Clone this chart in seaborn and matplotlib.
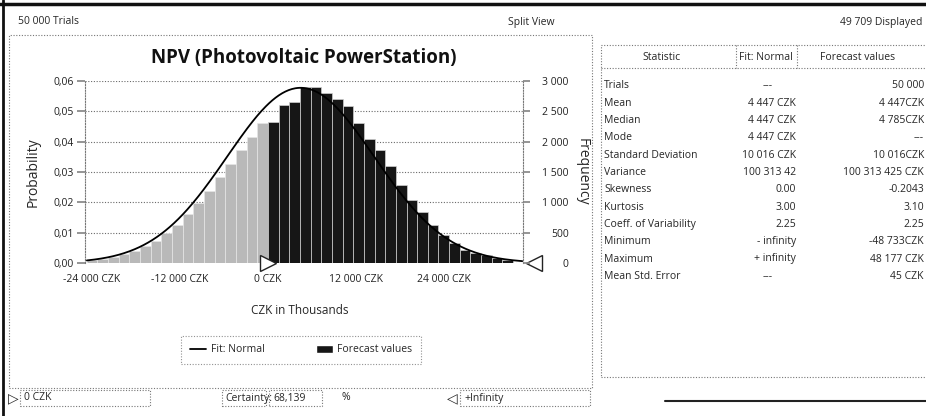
import numpy as np
import pandas as pd
import seaborn as sns
import matplotlib.pyplot as plt
from matplotlib.patches import Rectangle, Patch
from matplotlib.lines import Line2D
from matplotlib.ticker import FuncFormatter

# forecast data (probability per bin)
bin_width = 1450
trials = 50000
light_probs = [0.0009, 0.0013, 0.0020, 0.0029, 0.0040, 0.0055, 0.0074, 0.0099, 0.0125,
               0.0160, 0.0197, 0.0238, 0.0282, 0.0325, 0.0372, 0.0415, 0.0460]
dark_probs = [0.0465, 0.0520, 0.0530, 0.0580, 0.0580, 0.0560, 0.0540, 0.0516, 0.0463,
              0.0410, 0.0373, 0.0320, 0.0257, 0.0208, 0.0169, 0.0125, 0.0092, 0.0066,
              0.0043, 0.0034, 0.0026, 0.0017, 0.0010]
fit_mean = 4447
fit_sd = 10016
certainty_low = 0
x_ticks = [-24000, -12000, 0, 12000, 24000]

stat_names = ["Trials", "Mean", "Median", "Mode", "Standard Deviation", "Variance",
              "Skewness", "Kurtosis", "Coeff. of Variability", "Minimum", "Maximum",
              "Mean Std. Error"]
fit_values = ["---", "4 447 CZK", "4 447 CZK", "4 447 CZK", "10 016 CZK", "100 313 42",
              "0.00", "3.00", "2.25", "- infinity", "+ infinity", "---"]
forecast_values = ["50 000", "4 447CZK", "4 785CZK", "---", "10 016CZK", "100 313 425 CZK",
                   "-0.2043", "3.10", "2.25", "-48 733CZK", "48 177 CZK", "45 CZK"]

W, H = 926, 416


def fx(px):
    return px / W


def fy(py):
    return 1 - py / H


sns.set_theme(style="white")
plt.rcParams['font.family'] = ['Open Sans', 'DejaVu Sans']

fig = plt.figure(figsize=(W / 100, H / 100), dpi=100)
fig.patch.set_facecolor("white")

ax = fig.add_axes([fx(85), fy(263), fx(523) - fx(85), fy(81) - fy(263)])

n_light = len(light_probs)
light_edges = [certainty_low - bin_width * k for k in range(n_light, -1, -1)]
dark_edges = [certainty_low + bin_width * k for k in range(len(dark_probs) + 1)]
light_df = pd.DataFrame({"x": [(a + b) / 2 for a, b in zip(light_edges[:-1], light_edges[1:])],
                         "p": light_probs})
dark_df = pd.DataFrame({"x": [(a + b) / 2 for a, b in zip(dark_edges[:-1], dark_edges[1:])],
                        "p": dark_probs})

sns.histplot(data=light_df, x="x", weights="p", bins=light_edges, ax=ax,
             color="#b9b9b9", alpha=1, edgecolor="#e6e6e6", linewidth=0.5)
sns.histplot(data=dark_df, x="x", weights="p", bins=dark_edges, ax=ax,
             color="#161616", alpha=1, edgecolor="#d0d0d0", linewidth=0.5)

xs = np.linspace(light_edges[0], 34600, 400)
ys = np.exp(-0.5 * ((xs - fit_mean) / fit_sd) ** 2) / (fit_sd * np.sqrt(2 * np.pi)) * bin_width
sns.lineplot(x=xs, y=ys, ax=ax, color="black", linewidth=1.3)

ax.set_xlim(-24900, 34700)
ax.set_ylim(0, 0.06)
ax.set_xticks(x_ticks)
ax.xaxis.set_major_formatter(FuncFormatter(
    lambda v, p: ("-" if v < 0 else "") + f"{abs(int(v)):,}".replace(",", " ") + " CZK"))
ax.set_yticks(np.arange(0, 0.061, 0.01))
ax.yaxis.set_major_formatter(FuncFormatter(lambda v, p: f"{v:.2f}".replace(".", ",")))
ax.yaxis.grid(True, linestyle=(0, (1, 1.5)), color="#6a6a6a", linewidth=0.8)
ax.set_xlabel("")
ax.set_ylabel("")
ax.tick_params(axis="x", labelsize=7.5, colors="#222222", length=0, pad=8)
ax.tick_params(axis="y", labelsize=7.5, colors="#222222", length=6, color="#888888", pad=2)
for side in ["top", "bottom"]:
    ax.spines[side].set_visible(False)
for side in ["left", "right"]:
    ax.spines[side].set_linestyle((0, (1, 1.5)))
    ax.spines[side].set_color("#777777")
    ax.spines[side].set_linewidth(0.8)

ax2 = ax.twinx()
ax2.set_ylim(0, 0.06 * trials)
ax2.set_yticks(np.arange(0, 3001, 500))
ax2.yaxis.set_major_formatter(FuncFormatter(lambda v, p: f"{int(v):,}".replace(",", " ")))
ax2.tick_params(axis="y", labelsize=7.5, colors="#222222", length=5, color="#888888", pad=28)
for lbl in ax2.get_yticklabels():
    lbl.set_horizontalalignment("right")
ax2.grid(False)
for side in ax2.spines:
    ax2.spines[side].set_visible(False)

# certainty grabbers
ax.plot([certainty_low], [0], marker=">", markersize=11, markerfacecolor="white",
        markeredgecolor="#222222", clip_on=False, zorder=5, linestyle="none")
ax.plot([1.025], [0.0], marker="<", markersize=11, markerfacecolor="white",
        markeredgecolor="#222222", clip_on=False, transform=ax.transAxes, zorder=5,
        linestyle="none")

fig.text(fx(304), fy(58), "NPV (Photovoltaic PowerStation)", ha="center", va="center",
         fontsize=13.5, fontweight="bold", color="#111111")
fig.text(fx(300), fy(310), "CZK in Thousands", ha="center", va="center", fontsize=8.5)
fig.text(fx(33), fy(172), "Probability", ha="center", va="center", rotation=90, fontsize=10)
fig.text(fx(582), fy(172), "Frequency", ha="center", va="center", rotation=270, fontsize=10)

handles = [Line2D([0], [0], color="black", linewidth=1.3), Patch(facecolor="#161616")]
leg = fig.legend(handles, ["Fit: Normal", "Forecast values"], loc="center",
                 bbox_to_anchor=(fx(301), fy(350)), ncol=2, fontsize=7.5, frameon=True,
                 fancybox=False, edgecolor="#777777", handlelength=1.6, columnspacing=5.0,
                 borderpad=0.8, handletextpad=0.4)
leg.get_frame().set_linestyle((0, (1, 1.5)))
leg.get_frame().set_linewidth(0.8)

# header
fig.text(fx(18), fy(22), "50 000 Trials", ha="left", va="center", fontsize=7.5)
fig.text(fx(531), fy(22), "Split View", ha="center", va="center", fontsize=7.5)
fig.text(fx(922), fy(22), "49 709 Displayed", ha="right", va="center", fontsize=7.5)

# window frame and panels
fig.add_artist(Line2D([0, 1], [fy(4), fy(4)], color="#111111", linewidth=2.5))
fig.add_artist(Line2D([fx(3), fx(3)], [0, 1], color="#111111", linewidth=2))
fig.add_artist(Line2D([fx(665), 1], [fy(401), fy(401)], color="#222222", linewidth=1.5))
dotted = dict(fill=False, edgecolor="#777777", linewidth=0.8, linestyle=(0, (1, 1.5)))
fig.add_artist(Rectangle((fx(9), fy(388)), fx(592) - fx(9), fy(35) - fy(388), **dotted))

# bottom controls
ctl_y = 398
box_h = fy(ctl_y - 8) - fy(ctl_y + 8)
fig.text(fx(13), fy(ctl_y), "\u25B7", ha="center", va="center", fontsize=10,
         family=["DejaVu Sans"])
fig.add_artist(Rectangle((fx(20), fy(ctl_y + 8)), fx(150) - fx(20), box_h, **dotted))
fig.text(fx(24), fy(ctl_y), "0 CZK", ha="left", va="center", fontsize=7.5)
fig.add_artist(Rectangle((fx(222), fy(ctl_y + 8)), fx(266) - fx(222), box_h, **dotted))
fig.text(fx(225), fy(ctl_y), "Certainty:", ha="left", va="center", fontsize=7.5)
fig.add_artist(Rectangle((fx(269), fy(ctl_y + 8)), fx(322) - fx(269), box_h, **dotted))
fig.text(fx(273), fy(ctl_y), "68,139", ha="left", va="center", fontsize=7.5)
fig.text(fx(341), fy(ctl_y), "%", ha="left", va="center", fontsize=7.5)
fig.text(fx(452), fy(ctl_y), "\u25C1", ha="center", va="center", fontsize=10,
         family=["DejaVu Sans"])
fig.add_artist(Rectangle((fx(460), fy(ctl_y + 8)), fx(590) - fx(460), box_h, **dotted))
fig.text(fx(464), fy(ctl_y), "+Infinity", ha="left", va="center", fontsize=7.5)

# statistics table
fig.add_artist(Rectangle((fx(601), fy(377)), fx(930) - fx(601), fy(45) - fy(377), **dotted))
fig.add_artist(Line2D([fx(601), fx(926)], [fy(68), fy(68)], color="#777777",
                      linewidth=0.8, linestyle=(0, (1, 1.5))))
for sx in [736, 797]:
    fig.add_artist(Line2D([fx(sx), fx(sx)], [fy(45), fy(68)], color="#777777",
                          linewidth=0.8, linestyle=(0, (1, 1.5))))
fig.text(fx(662), fy(57), "Statistic", ha="center", va="center", fontsize=7.5)
fig.text(fx(766), fy(57), "Fit: Normal", ha="center", va="center", fontsize=7.5)
fig.text(fx(858), fy(57), "Forecast values", ha="center", va="center", fontsize=7.5)
row_h = 17.3
for i, (name, fv, cv) in enumerate(zip(stat_names, fit_values, forecast_values)):
    yy = fy(86 + i * row_h)
    fig.text(fx(604), yy, name, ha="left", va="center", fontsize=7.5)
    if fv == "---":
        fig.text(fx(768), yy, fv, ha="center", va="center", fontsize=7.5)
    else:
        fig.text(fx(796), yy, fv, ha="right", va="center", fontsize=7.5)
    fig.text(fx(924), yy, cv, ha="right", va="center", fontsize=7.5)

fig.savefig("out.png", dpi=100)
